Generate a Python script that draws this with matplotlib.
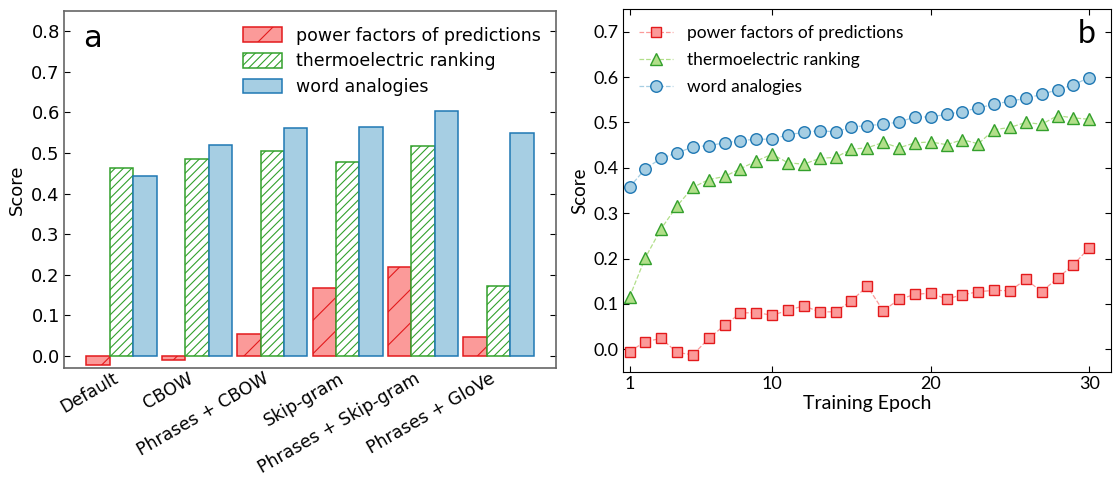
import matplotlib
matplotlib.use("Agg")
import matplotlib.pyplot as plt
import numpy as np

methods = ["Default", "CBOW", "Phrases + CBOW", "Skip-gram", "Phrases + Skip-gram", "Phrases + GloVe"]
bar_power = [-0.023, -0.010, 0.055, 0.166, 0.219, 0.046]
bar_thermo = [0.463, 0.486, 0.504, 0.478, 0.518, 0.171]
bar_word = [0.443, 0.520, 0.562, 0.564, 0.603, 0.550]

epochs = list(range(1, 31))
ep_power = [-0.005, 0.017, 0.024, -0.007, -0.012, 0.024, 0.053, 0.080, 0.081, 0.075,
            0.086, 0.096, 0.082, 0.083, 0.107, 0.139, 0.085, 0.110, 0.121, 0.124,
            0.111, 0.120, 0.127, 0.130, 0.129, 0.154, 0.127, 0.157, 0.186, 0.224]
ep_thermo = [0.115, 0.202, 0.266, 0.316, 0.357, 0.374, 0.381, 0.398, 0.415, 0.430,
             0.411, 0.408, 0.421, 0.423, 0.441, 0.444, 0.456, 0.444, 0.455, 0.457,
             0.451, 0.462, 0.453, 0.484, 0.489, 0.500, 0.496, 0.515, 0.510, 0.507]
ep_word = [0.357, 0.398, 0.421, 0.433, 0.446, 0.449, 0.455, 0.460, 0.463, 0.463,
           0.473, 0.478, 0.482, 0.479, 0.490, 0.493, 0.496, 0.501, 0.512, 0.512,
           0.518, 0.524, 0.532, 0.540, 0.547, 0.553, 0.562, 0.572, 0.583, 0.599]

series_labels = ["power factors of predictions", "thermoelectric ranking", "word analogies"]
light = {"r": "#fb9a99", "g": "#b2df8a", "b": "#a6cee3"}
dark = {"r": "#e31a1c", "g": "#33a02c", "b": "#1f78b4"}

plt.rcParams['hatch.linewidth'] = 0.8
fig = plt.figure(figsize=(11.13, 4.78), dpi=100)
W, H = 1113, 478
axa = fig.add_axes([64 / W, 1 - 368 / H, (556 - 64) / W, (368 - 11) / H])
axb = fig.add_axes([623 / W, 1 - 372 / H, (1111 - 623) / W, (372 - 9) / H])

# ---- panel a ----
x = np.arange(len(methods))
w = 0.31
axa.bar(x - w, bar_power, w, facecolor=light["r"], edgecolor=dark["r"], hatch="/", linewidth=1.1,
        label=series_labels[0])
axa.bar(x, bar_thermo, w, facecolor="white", edgecolor=dark["g"], hatch="////", linewidth=1.1,
        label=series_labels[1])
axa.bar(x + w, bar_word, w, facecolor=light["b"], edgecolor=dark["b"], linewidth=1.1,
        label=series_labels[2])
axa.set_ylim(-0.03, 0.85)
yt_a = np.arange(0, 0.81, 0.1)
axa.set_yticks(yt_a)
axa.set_yticklabels([f"{v:.1f}" for v in yt_a])
axa.set_xticks(x)
axa.set_xticklabels(methods, rotation=30, ha="right")
axa.tick_params(axis="y", direction="in", right=True, labelsize=13, length=4, pad=3)
axa.tick_params(axis="x", length=0, labelsize=12.5, pad=1)
axa.set_ylabel("Score", fontsize=13, labelpad=4)
axa.text(0.039, 0.922, "a", transform=axa.transAxes, fontsize=22, va="center", ha="left")
axa.legend(loc="upper right", bbox_to_anchor=(1.0, 1.0), frameon=False, fontsize=12.5,
           handlelength=2.2, handleheight=0.9, borderaxespad=0.5, labelspacing=0.45)
for s in axa.spines.values():
    s.set_color("#666666")
    s.set_linewidth(1.2)

# ---- panel b ----
fam = ["Lato", "DejaVu Sans"]
axb.plot(epochs, ep_power, ls="--", lw=0.9, color=light["r"], marker="s", ms=7.8,
         mfc=light["r"], mec=dark["r"], mew=1.0, label=series_labels[0])
axb.plot(epochs, ep_thermo, ls="--", lw=0.9, color=light["g"], marker="^", ms=9,
         mfc=light["g"], mec=dark["g"], mew=1.0, label=series_labels[1])
axb.plot(epochs, ep_word, ls="--", lw=0.9, color=light["b"], marker="o", ms=8.3,
         mfc=light["b"], mec=dark["b"], mew=1.0, label=series_labels[2])
axb.set_xlim(0.59, 31.37)
axb.set_ylim(-0.05, 0.75)
axb.set_xticks([1, 10, 20, 30])
yt_b = np.arange(0, 0.71, 0.1)
axb.set_yticks(yt_b)
axb.set_yticklabels([f"{v:.1f}" for v in yt_b], family=fam)
axb.set_xticklabels(["1", "10", "20", "30"], family=fam)
axb.tick_params(direction="in", top=True, right=True, labelsize=13, length=4, pad=3)
axb.set_xlabel("Training Epoch", fontsize=14, family=fam, labelpad=2)
axb.set_ylabel("Score", fontsize=13.5, family=fam, labelpad=4)
axb.text(0.969, 0.931, "b", transform=axb.transAxes, fontsize=23, va="center", ha="right", family=fam)
axb.legend(loc="upper left", bbox_to_anchor=(0.0, 1.0), frameon=False,
           prop={"family": fam, "size": 12.5}, handlelength=2.0, handletextpad=0.8,
           borderaxespad=0.5, labelspacing=0.65)

fig.savefig("out.png", dpi=100)
